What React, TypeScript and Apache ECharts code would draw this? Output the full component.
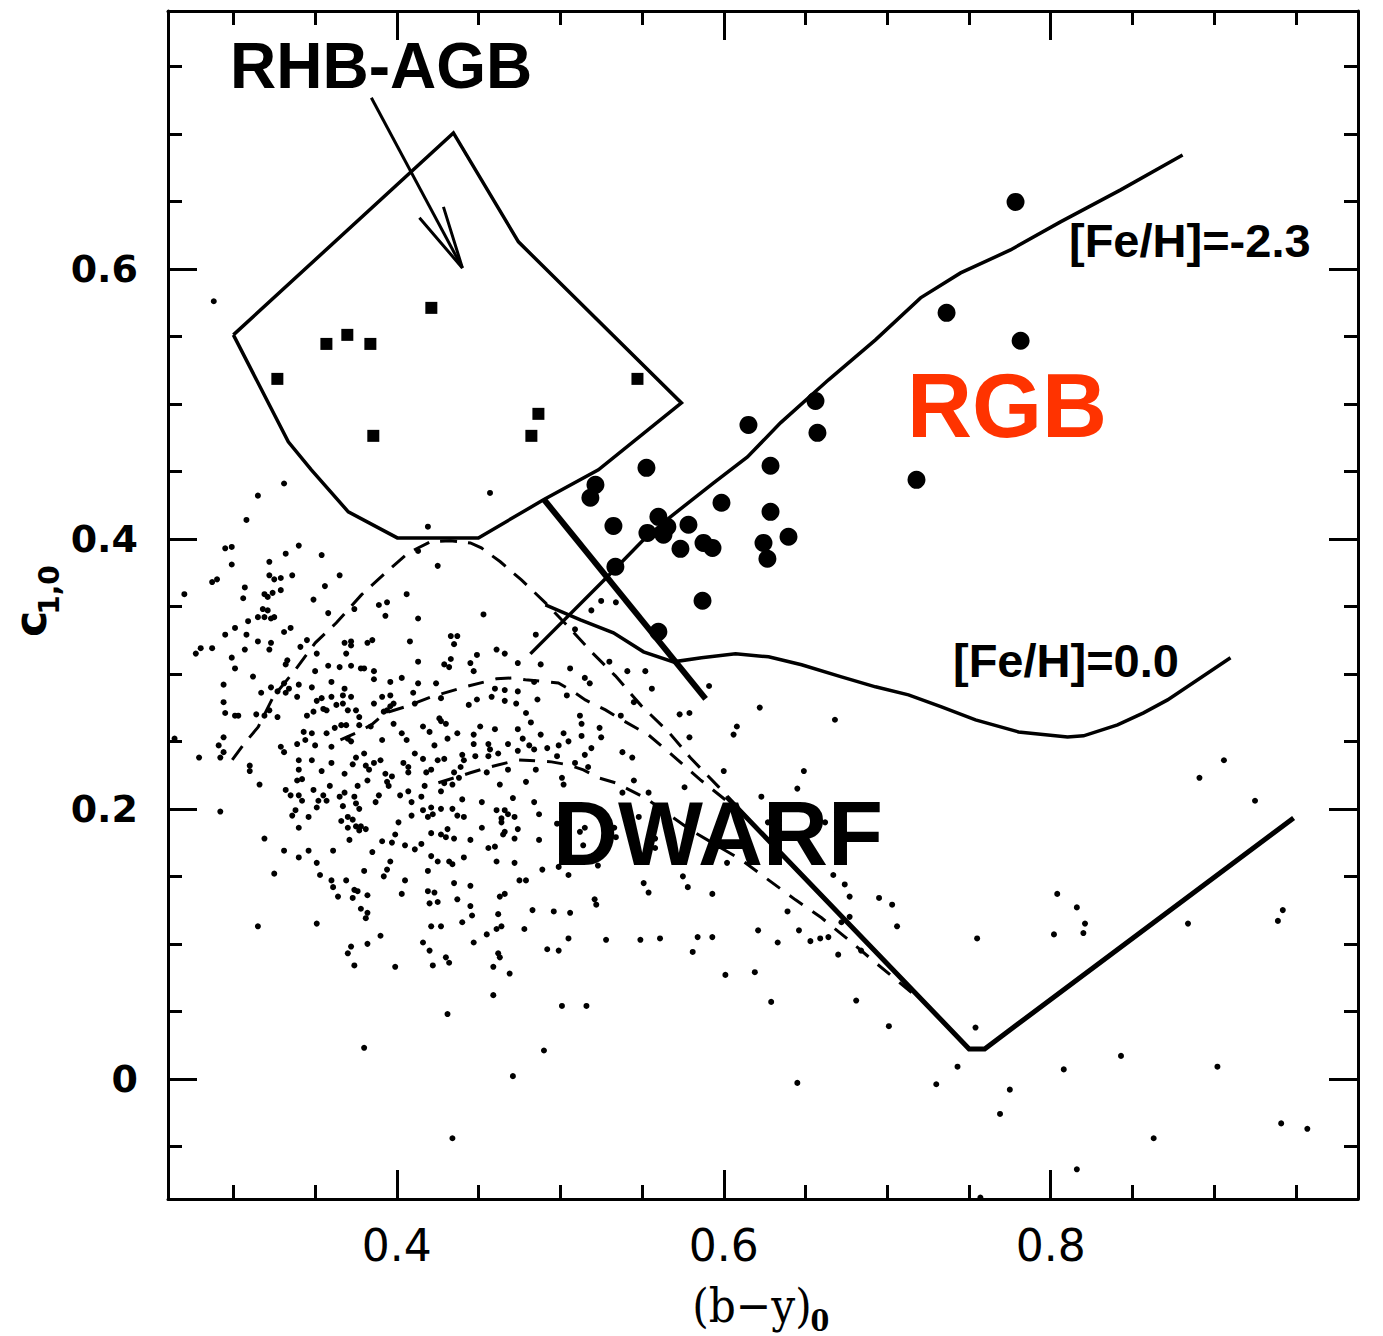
import React, { useEffect, useRef } from "react";
import * as echarts from "echarts";

// ---------- axes ----------
const xRange = [0.26, 0.988];
const yRange = [-0.089, 0.791];
const xMajorTicks = [0.4, 0.6, 0.8];
const xMinorTicks = [0.3, 0.35, 0.45, 0.5, 0.55, 0.65, 0.7, 0.75, 0.85, 0.9, 0.95];
const yMajorTicks = [0, 0.2, 0.4, 0.6];
const yMinorTicks = [-0.05, 0.05, 0.1, 0.15, 0.25, 0.3, 0.35, 0.45, 0.5, 0.55, 0.65, 0.7, 0.75];

// ---------- stars ----------
const rgbStars = [
  [0.7785, 0.6496], [0.7363, 0.5674], [0.7816, 0.5467], [0.6561, 0.5022], [0.6151, 0.4844],
  [0.6573, 0.4785], [0.5527, 0.4526], [0.6286, 0.4541], [0.7179, 0.4437], [0.5215, 0.44],
  [0.5184, 0.4304], [0.5986, 0.4267], [0.6286, 0.42], [0.56, 0.4163], [0.5325, 0.4096],
  [0.5655, 0.4089], [0.5784, 0.4104], [0.5533, 0.4044], [0.5631, 0.403], [0.5876, 0.397],
  [0.5931, 0.3933], [0.5735, 0.3926], [0.6243, 0.397], [0.6396, 0.4015], [0.6267, 0.3852],
  [0.5337, 0.3793], [0.587, 0.3541], [0.56, 0.3311],
];

const hbStars = [
  [0.4211, 0.5711], [0.3697, 0.5511], [0.3569, 0.5444], [0.3838, 0.5444], [0.3269, 0.5185],
  [0.5472, 0.5185], [0.4866, 0.4926], [0.3856, 0.4763], [0.4823, 0.4763],
];

const fieldStarsA = [
  [0.288, 0.576],
  [0.331, 0.441], [0.315, 0.432], [0.308, 0.414], [0.295, 0.393], [0.299, 0.394], [0.299, 0.381], [0.322, 0.383],
  [0.332, 0.389], [0.34, 0.395], [0.354, 0.388], [0.287, 0.368], [0.29, 0.37], [0.307, 0.364], [0.306, 0.356],
  [0.322, 0.373], [0.325, 0.37], [0.329, 0.371], [0.336, 0.373], [0.319, 0.359], [0.321, 0.357], [0.324, 0.36],
  [0.329, 0.362], [0.349, 0.355], [0.356, 0.365], [0.365, 0.373], [0.27, 0.359], [0.318, 0.348], [0.321, 0.347],
  [0.315, 0.342], [0.319, 0.342], [0.323, 0.341], [0.325, 0.342], [0.309, 0.339], [0.301, 0.334], [0.295, 0.329],
  [0.308, 0.329], [0.331, 0.331], [0.335, 0.334], [0.358, 0.345], [0.374, 0.348], [0.389, 0.351], [0.394, 0.353],
  [0.393, 0.343], [0.406, 0.359], [0.413, 0.341], [0.28, 0.319], [0.277, 0.315], [0.287, 0.319], [0.307, 0.318],
  [0.315, 0.324], [0.322, 0.318], [0.323, 0.323], [0.299, 0.312], [0.301, 0.304], [0.341, 0.32], [0.345, 0.325],
  [0.351, 0.315], [0.368, 0.323], [0.372, 0.324], [0.372, 0.321], [0.369, 0.315], [0.382, 0.323], [0.385, 0.325],
  [0.408, 0.324], [0.413, 0.309], [0.332, 0.307], [0.333, 0.31], [0.312, 0.298], [0.294, 0.292], [0.35, 0.302],
  [0.358, 0.306], [0.365, 0.305], [0.372, 0.306], [0.378, 0.304], [0.38, 0.304], [0.386, 0.302], [0.386, 0.296],
  [0.396, 0.294], [0.403, 0.297], [0.413, 0.293], [0.36, 0.294], [0.331, 0.293], [0.317, 0.286], [0.323, 0.29],
  [0.327, 0.287], [0.332, 0.286], [0.334, 0.289], [0.34, 0.292], [0.339, 0.283], [0.348, 0.29], [0.294, 0.279],
  [0.295, 0.271], [0.301, 0.269], [0.303, 0.269], [0.314, 0.27], [0.319, 0.269], [0.322, 0.273], [0.327, 0.268],
  [0.345, 0.269], [0.349, 0.272], [0.351, 0.28], [0.354, 0.282], [0.36, 0.283], [0.355, 0.274], [0.357, 0.273],
  [0.363, 0.277], [0.367, 0.278], [0.368, 0.289], [0.367, 0.284], [0.372, 0.283], [0.37, 0.273], [0.375, 0.273],
  [0.377, 0.268], [0.386, 0.278], [0.391, 0.283], [0.396, 0.284], [0.398, 0.278], [0.396, 0.276], [0.41, 0.286],
  [0.411, 0.278], [0.392, 0.272], [0.394, 0.273],
];

const fieldStarsB = [
  [0.457, 0.434], [0.419, 0.409], [0.413, 0.391], [0.425, 0.38], [0.453, 0.344], [0.433, 0.328], [0.437, 0.328],
  [0.435, 0.322], [0.485, 0.329], [0.461, 0.318], [0.466, 0.315], [0.449, 0.314], [0.433, 0.311], [0.429, 0.307],
  [0.432, 0.305], [0.445, 0.308], [0.447, 0.302], [0.474, 0.308], [0.488, 0.307], [0.506, 0.304], [0.519, 0.347],
  [0.525, 0.354], [0.534, 0.353], [0.509, 0.333], [0.53, 0.309], [0.541, 0.302], [0.552, 0.302], [0.556, 0.289],
  [0.515, 0.297], [0.518, 0.293], [0.484, 0.294], [0.474, 0.287], [0.466, 0.288], [0.46, 0.289], [0.458, 0.283],
  [0.449, 0.281], [0.444, 0.277], [0.424, 0.293], [0.427, 0.282], [0.466, 0.28], [0.473, 0.278], [0.486, 0.281],
  [0.504, 0.284], [0.537, 0.269], [0.545, 0.279], [0.512, 0.269], [0.479, 0.271], [0.426, 0.267],
];

const fieldStarsC = [
  [0.264, 0.252], [0.294, 0.253], [0.291, 0.247], [0.294, 0.242], [0.292, 0.238], [0.279, 0.238], [0.31, 0.232],
  [0.31, 0.228], [0.316, 0.218], [0.329, 0.246], [0.331, 0.242], [0.339, 0.248], [0.344, 0.251], [0.343, 0.257],
  [0.348, 0.256], [0.35, 0.247], [0.357, 0.256], [0.362, 0.26], [0.366, 0.262], [0.369, 0.262], [0.37, 0.252],
  [0.372, 0.25], [0.377, 0.262], [0.384, 0.261], [0.391, 0.251], [0.398, 0.263], [0.403, 0.256], [0.406, 0.251],
  [0.411, 0.241], [0.34, 0.236], [0.34, 0.229], [0.339, 0.221], [0.342, 0.222], [0.348, 0.236], [0.354, 0.228],
  [0.36, 0.234], [0.36, 0.246], [0.368, 0.226], [0.373, 0.233], [0.375, 0.238], [0.38, 0.241], [0.381, 0.232],
  [0.383, 0.229], [0.382, 0.221], [0.386, 0.234], [0.39, 0.236], [0.393, 0.226], [0.394, 0.22], [0.395, 0.217],
  [0.397, 0.224], [0.404, 0.234], [0.407, 0.231], [0.407, 0.227], [0.332, 0.214], [0.335, 0.21], [0.34, 0.21],
  [0.342, 0.206], [0.349, 0.214], [0.351, 0.201], [0.352, 0.206], [0.355, 0.21], [0.357, 0.206], [0.359, 0.217],
  [0.365, 0.209], [0.368, 0.212], [0.367, 0.202], [0.374, 0.209], [0.375, 0.204], [0.376, 0.217], [0.377, 0.2],
  [0.389, 0.21], [0.387, 0.205], [0.402, 0.21], [0.407, 0.213], [0.409, 0.205], [0.338, 0.199], [0.336, 0.195],
  [0.34, 0.186], [0.346, 0.194], [0.366, 0.191], [0.37, 0.194], [0.37, 0.186], [0.373, 0.192], [0.375, 0.187],
  [0.378, 0.187], [0.377, 0.184], [0.381, 0.185], [0.371, 0.177], [0.401, 0.19], [0.409, 0.195], [0.411, 0.17],
  [0.292, 0.198], [0.319, 0.178], [0.331, 0.169], [0.34, 0.164], [0.346, 0.169], [0.361, 0.169], [0.351, 0.16],
  [0.353, 0.151], [0.36, 0.147], [0.361, 0.142], [0.364, 0.135], [0.369, 0.147], [0.374, 0.14], [0.376, 0.139],
  [0.373, 0.134], [0.382, 0.136], [0.38, 0.154], [0.385, 0.168], [0.391, 0.176], [0.397, 0.175], [0.399, 0.181],
  [0.396, 0.161], [0.394, 0.155], [0.392, 0.15], [0.405, 0.173], [0.405, 0.147], [0.403, 0.137], [0.325, 0.152],
  [0.315, 0.113], [0.351, 0.115], [0.378, 0.126], [0.382, 0.123], [0.381, 0.119], [0.39, 0.106], [0.382, 0.1],
  [0.372, 0.098], [0.37, 0.093], [0.374, 0.084], [0.399, 0.083],
];

const fieldStarsD = [
  [0.416, 0.261], [0.42, 0.257], [0.427, 0.265], [0.43, 0.263], [0.451, 0.261], [0.46, 0.259], [0.474, 0.259],
  [0.482, 0.264], [0.513, 0.263], [0.524, 0.26], [0.525, 0.253], [0.513, 0.254], [0.502, 0.256], [0.488, 0.255],
  [0.477, 0.252], [0.468, 0.248], [0.456, 0.248], [0.457, 0.244], [0.456, 0.239], [0.447, 0.255], [0.447, 0.248],
  [0.437, 0.256], [0.431, 0.252], [0.423, 0.247], [0.416, 0.237], [0.425, 0.236], [0.429, 0.237], [0.44, 0.24],
  [0.441, 0.236], [0.439, 0.231], [0.448, 0.239], [0.462, 0.241], [0.474, 0.243], [0.481, 0.247], [0.484, 0.244],
  [0.492, 0.245], [0.499, 0.247], [0.505, 0.25], [0.515, 0.24], [0.519, 0.245], [0.498, 0.239], [0.485, 0.229],
  [0.468, 0.229], [0.455, 0.227], [0.435, 0.227], [0.438, 0.223], [0.421, 0.229], [0.418, 0.227], [0.417, 0.217],
  [0.429, 0.219], [0.434, 0.218], [0.427, 0.213], [0.44, 0.207], [0.452, 0.205], [0.463, 0.218], [0.479, 0.22],
  [0.471, 0.208], [0.484, 0.205], [0.501, 0.223], [0.502, 0.218], [0.509, 0.234], [0.517, 0.231], [0.538, 0.242],
  [0.544, 0.238], [0.545, 0.221], [0.554, 0.212], [0.538, 0.212], [0.415, 0.209], [0.416, 0.199], [0.421, 0.201],
  [0.422, 0.196], [0.427, 0.2], [0.419, 0.194], [0.434, 0.2], [0.437, 0.195], [0.441, 0.194], [0.461, 0.199],
  [0.466, 0.199], [0.464, 0.193], [0.464, 0.19], [0.468, 0.196], [0.472, 0.194], [0.487, 0.196], [0.474, 0.185],
  [0.466, 0.183], [0.465, 0.181], [0.452, 0.186], [0.431, 0.185], [0.421, 0.182], [0.427, 0.181], [0.43, 0.179],
  [0.435, 0.178], [0.415, 0.174], [0.445, 0.177], [0.456, 0.171], [0.46, 0.172], [0.472, 0.178], [0.487, 0.177],
  [0.498, 0.189], [0.512, 0.183], [0.515, 0.186], [0.514, 0.173], [0.533, 0.186], [0.534, 0.179], [0.548, 0.194],
  [0.558, 0.178], [0.558, 0.171], [0.523, 0.158], [0.505, 0.151], [0.499, 0.157], [0.489, 0.155], [0.421, 0.165],
  [0.425, 0.161], [0.432, 0.161], [0.434, 0.159], [0.441, 0.164], [0.419, 0.154], [0.461, 0.161], [0.472, 0.16],
  [0.475, 0.147], [0.479, 0.147], [0.463, 0.135], [0.466, 0.137], [0.445, 0.143], [0.435, 0.145], [0.419, 0.139],
  [0.423, 0.138], [0.42, 0.13], [0.425, 0.131], [0.437, 0.133], [0.445, 0.128], [0.446, 0.121], [0.462, 0.122],
  [0.483, 0.125], [0.496, 0.124], [0.506, 0.123], [0.521, 0.133], [0.522, 0.129], [0.551, 0.145], [0.554, 0.138],
  [0.421, 0.113], [0.427, 0.113], [0.44, 0.116], [0.455, 0.107], [0.461, 0.111], [0.464, 0.113], [0.478, 0.111],
  [0.447, 0.101], [0.416, 0.101], [0.42, 0.095], [0.43, 0.09], [0.432, 0.086], [0.422, 0.084], [0.462, 0.093],
  [0.463, 0.09], [0.492, 0.096], [0.499, 0.095], [0.505, 0.104], [0.528, 0.103], [0.549, 0.103], [0.561, 0.104],
  [0.459, 0.083],
];

const fieldStarsE = [
  [0.469, 0.078], [0.459, 0.062], [0.431, 0.048], [0.501, 0.054], [0.516, 0.054], [0.38, 0.023], [0.49, 0.021],
  [0.471, 0.002], [0.434, -0.044],
  [0.591, 0.291], [0.622, 0.275], [0.573, 0.27], [0.579, 0.271], [0.608, 0.261], [0.606, 0.255], [0.579, 0.253],
  [0.668, 0.266], [0.6, 0.228], [0.649, 0.228], [0.576, 0.216], [0.645, 0.215], [0.623, 0.209], [0.627, 0.19],
  [0.662, 0.19], [0.602, 0.16], [0.575, 0.15], [0.578, 0.142], [0.593, 0.137], [0.667, 0.151], [0.674, 0.144],
  [0.677, 0.135], [0.695, 0.134], [0.703, 0.129], [0.639, 0.124], [0.677, 0.12], [0.672, 0.116], [0.706, 0.113],
  [0.621, 0.11], [0.646, 0.11], [0.584, 0.105], [0.593, 0.105], [0.633, 0.101], [0.653, 0.102], [0.659, 0.104],
  [0.664, 0.105], [0.755, 0.104],
  [0.581, 0.094], [0.601, 0.077], [0.619, 0.079], [0.629, 0.057], [0.67, 0.092], [0.684, 0.095], [0.681, 0.058],
  [0.701, 0.039], [0.645, -0.003], [0.73, -0.004], [0.743, 0.009], [0.754, 0.038], [0.775, -0.008], [0.769, -0.026],
  [0.808, 0.007], [0.816, -0.067], [0.843, 0.017], [0.863, -0.044], [0.902, 0.009], [0.941, -0.033], [0.957, -0.037],
  [0.757, -0.088],
  [0.906, 0.236], [0.891, 0.223], [0.925, 0.206], [0.804, 0.137], [0.816, 0.127], [0.821, 0.115], [0.82, 0.108],
  [0.802, 0.107], [0.884, 0.115], [0.942, 0.125], [0.939, 0.117],
];

// ---------- curves ----------
const hbBox = [
  [0.3, 0.5511], [0.4346, 0.7007], [0.4744, 0.62], [0.5741, 0.5007], [0.5233, 0.4511], [0.4897, 0.4289],
  [0.4499, 0.4007], [0.4003, 0.4007], [0.3703, 0.42], [0.3477, 0.4511], [0.3336, 0.4719], [0.3, 0.5511],
];
const arrowShaft = [[0.3844, 0.7267], [0.4401, 0.6007]];
const arrowHead = [[0.4138, 0.6378], [0.4401, 0.6007], [0.4285, 0.6459]];

const fehMetalPoor = [
  [0.4817, 0.3148], [0.5288, 0.3719], [0.5509, 0.3993], [0.5674, 0.4163], [0.5938, 0.4415], [0.6145, 0.4607],
  [0.6347, 0.4859], [0.6641, 0.5178], [0.6928, 0.5474], [0.7204, 0.5785], [0.7449, 0.597], [0.7754, 0.614],
  [0.806, 0.6348], [0.8428, 0.6585], [0.8807, 0.6844],
];
const fehSolar = [
  [0.4909, 0.3511], [0.5123, 0.34], [0.5325, 0.3304], [0.5509, 0.3163], [0.5692, 0.3089], [0.5864, 0.3119],
  [0.6072, 0.3148], [0.6274, 0.3126], [0.6476, 0.3067], [0.672, 0.2978], [0.6928, 0.2904], [0.713, 0.2844],
  [0.7332, 0.2756], [0.754, 0.2659], [0.7803, 0.257], [0.8103, 0.2533], [0.8201, 0.2541], [0.8409, 0.2622],
  [0.8568, 0.2711], [0.8715, 0.2807], [0.91, 0.3119],
];
const giantDwarfDivider = [[0.4897, 0.4296], [0.5889, 0.2815]];

const dwarfOuterDashed = [
  [0.2993, 0.2363], [0.3061, 0.2474], [0.3152, 0.2607], [0.3244, 0.283], [0.3379, 0.303], [0.3501, 0.323],
  [0.363, 0.3378], [0.3783, 0.3585], [0.393, 0.3748], [0.407, 0.3896], [0.4205, 0.3978], [0.4327, 0.3985],
  [0.445, 0.397], [0.4517, 0.3933], [0.4633, 0.383], [0.4762, 0.3696], [0.4909, 0.3526], [0.505, 0.3348],
  [0.519, 0.3163], [0.5337, 0.2985], [0.5496, 0.2763], [0.5662, 0.257], [0.5796, 0.2378], [0.5968, 0.2163],
  [0.6017, 0.2089],
];
const dwarfLowerSolid = [[0.6017, 0.2089], [0.7501, 0.0222], [0.7596, 0.0222], [0.9486, 0.1933]];
const dwarfUpperInner = [
  [0.3655, 0.2511], [0.3752, 0.2563], [0.3844, 0.2622], [0.393, 0.2711], [0.4052, 0.2756], [0.4211, 0.283],
  [0.4419, 0.2904], [0.4609, 0.2963], [0.4713, 0.297], [0.4786, 0.2956], [0.4988, 0.2933], [0.508, 0.2867],
  [0.5153, 0.2807], [0.5276, 0.2733], [0.5355, 0.2674], [0.5539, 0.2548], [0.5662, 0.2422], [0.5857, 0.2215],
  [0.6071, 0.2007],
];
const dwarfLowerInner = [
  [0.4254, 0.2193], [0.445, 0.2267], [0.4548, 0.2304], [0.4744, 0.2363], [0.4946, 0.2348], [0.505, 0.2326],
  [0.5141, 0.2289], [0.5233, 0.223], [0.5337, 0.2193], [0.552, 0.2081], [0.5796, 0.1844], [0.6108, 0.1622],
  [0.6273, 0.1474], [0.6439, 0.1326], [0.6598, 0.1193], [0.6763, 0.103], [0.6922, 0.0867], [0.7204, 0.0585],
];

const fmtTick = (v: number) => (Math.abs(v) < 1e-9 ? "0" : v.toFixed(1));

function makeX(position: string, ticks: number[], len: number, labels: boolean, showLine: boolean) {
  return {
    type: "value",
    position,
    min: xRange[0],
    max: xRange[1],
    axisLine: { show: showLine, onZero: false, lineStyle: { color: "#000", width: 3 } },
    axisTick: { show: true, inside: true, length: len, customValues: ticks, lineStyle: { color: "#000", width: 3 } },
    axisLabel: {
      show: labels,
      customValues: ticks,
      formatter: fmtTick,
      margin: 24,
      color: "#000",
      fontFamily: "DejaVu Sans",
      fontSize: 44,
    },
    splitLine: { show: false },
  };
}
function makeY(position: string, ticks: number[], len: number, labels: boolean, showLine: boolean) {
  return {
    type: "value",
    position,
    min: yRange[0],
    max: yRange[1],
    axisLine: { show: showLine, onZero: false, lineStyle: { color: "#000", width: 3 } },
    axisTick: { show: true, inside: true, length: len, customValues: ticks, lineStyle: { color: "#000", width: 3 } },
    axisLabel: {
      show: labels,
      customValues: ticks,
      formatter: fmtTick,
      margin: 30,
      color: "#000",
      fontFamily: "DejaVu Sans",
      fontWeight: "bold",
      fontSize: 38,
    },
    splitLine: { show: false },
  };
}

function lineS(data: number[][], width: number, type: any = "solid", z = 3) {
  return {
    type: "line",
    data,
    symbol: "none",
    showSymbol: false,
    silent: true,
    z,
    lineStyle: { color: "#000", width, type, opacity: 1, cap: "butt", join: "miter" },
  };
}

function dotS(data: number[][], size: number, symbol = "circle", z = 4) {
  return {
    type: "scatter",
    data,
    symbol,
    symbolSize: size,
    silent: true,
    z,
    itemStyle: { color: "#000", opacity: 1 },
  };
}

const TEXT_FONT = "Liberation Sans";

export default function App() {
  const ref = useRef<HTMLDivElement>(null);
  useEffect(() => {
    document.body.style.margin = "0";
    const chart = echarts.init(ref.current!, null, { renderer: "svg" });
    const option: any = {
      animation: false,
      backgroundColor: "#fff",
      grid: { left: 168, top: 11, width: 1190, height: 1188, containLabel: false },
      xAxis: [
        makeX("bottom", xMajorTicks, 29, true, true),
        makeX("bottom", xMinorTicks, 14, false, false),
        makeX("top", xMajorTicks, 29, false, true),
        makeX("top", xMinorTicks, 14, false, false),
      ],
      yAxis: [
        makeY("left", yMajorTicks, 29, true, true),
        makeY("left", yMinorTicks, 14, false, false),
        makeY("right", yMajorTicks, 29, false, true),
        makeY("right", yMinorTicks, 14, false, false),
      ],
      series: [
        dotS([...fieldStarsA, ...fieldStarsB, ...fieldStarsC, ...fieldStarsD, ...fieldStarsE], 6),
        lineS(hbBox, 3.5),
        lineS(arrowShaft, 3),
        lineS(arrowHead, 3),
        lineS(fehMetalPoor, 3.5),
        lineS(fehSolar, 3.5),
        lineS(giantDwarfDivider, 6),
        lineS(dwarfOuterDashed, 3, [17, 11]),
        lineS(dwarfLowerSolid, 5),
        lineS(dwarfUpperInner, 3, [16, 12]),
        lineS(dwarfLowerInner, 3, [16, 12]),
        dotS(rgbStars, 18, "circle", 5),
        dotS(hbStars, 12, "rect", 5),
      ],
      graphic: [
        { type: "text", x: 230, y: 66, z: 100, style: { text: "RHB-AGB", fontFamily: TEXT_FONT, fontWeight: "bold", fontSize: 64, fill: "#000", align: "left", verticalAlign: "middle" } },
        { type: "text", x: 907, y: 406, z: 100, style: { text: "RGB", fontFamily: TEXT_FONT, fontWeight: "bold", fontSize: 90, fill: "#ff3300", align: "left", verticalAlign: "middle" } },
        { type: "text", x: 553, y: 834, z: 100, style: { text: "DWARF", fontFamily: TEXT_FONT, fontWeight: "bold", fontSize: 90, fill: "#000", align: "left", verticalAlign: "middle" } },
        { type: "text", x: 1069, y: 240, z: 100, style: { text: "[Fe/H]=-2.3", fontFamily: TEXT_FONT, fontWeight: "bold", fontSize: 47, fill: "#000", align: "left", verticalAlign: "middle" } },
        { type: "text", x: 953, y: 660, z: 100, style: { text: "[Fe/H]=0.0", fontFamily: TEXT_FONT, fontWeight: "bold", fontSize: 47, fill: "#000", align: "left", verticalAlign: "middle" } },
        { type: "text", x: 752, y: 1305, z: 100, style: { text: "(b−y)", fontFamily: "DejaVu Serif Condensed", fontSize: 47, fill: "#000", align: "center", verticalAlign: "middle" } },
        { type: "text", x: 820, y: 1320, z: 100, style: { text: "0", fontFamily: "DejaVu Serif Condensed", fontWeight: "bold", fontSize: 30, fill: "#000", align: "center", verticalAlign: "middle" } },
        { type: "text", x: 30, y: 624, z: 100, rotation: Math.PI / 2, style: { text: "c", fontFamily: "DejaVu Sans", fontWeight: "bold", fontSize: 44, fill: "#000", align: "center", verticalAlign: "middle" } },
        { type: "text", x: 49, y: 590, z: 100, rotation: Math.PI / 2, style: { text: "1,0", fontFamily: "DejaVu Sans", fontWeight: "bold", fontSize: 28, fill: "#000", align: "center", verticalAlign: "middle" } },
      ],
    };
    chart.setOption(option);
    return () => chart.dispose();
  }, []);
  return <div ref={ref} style={{ position: "absolute", left: 0, top: 0, width: 1383, height: 1336 }} />;
}
